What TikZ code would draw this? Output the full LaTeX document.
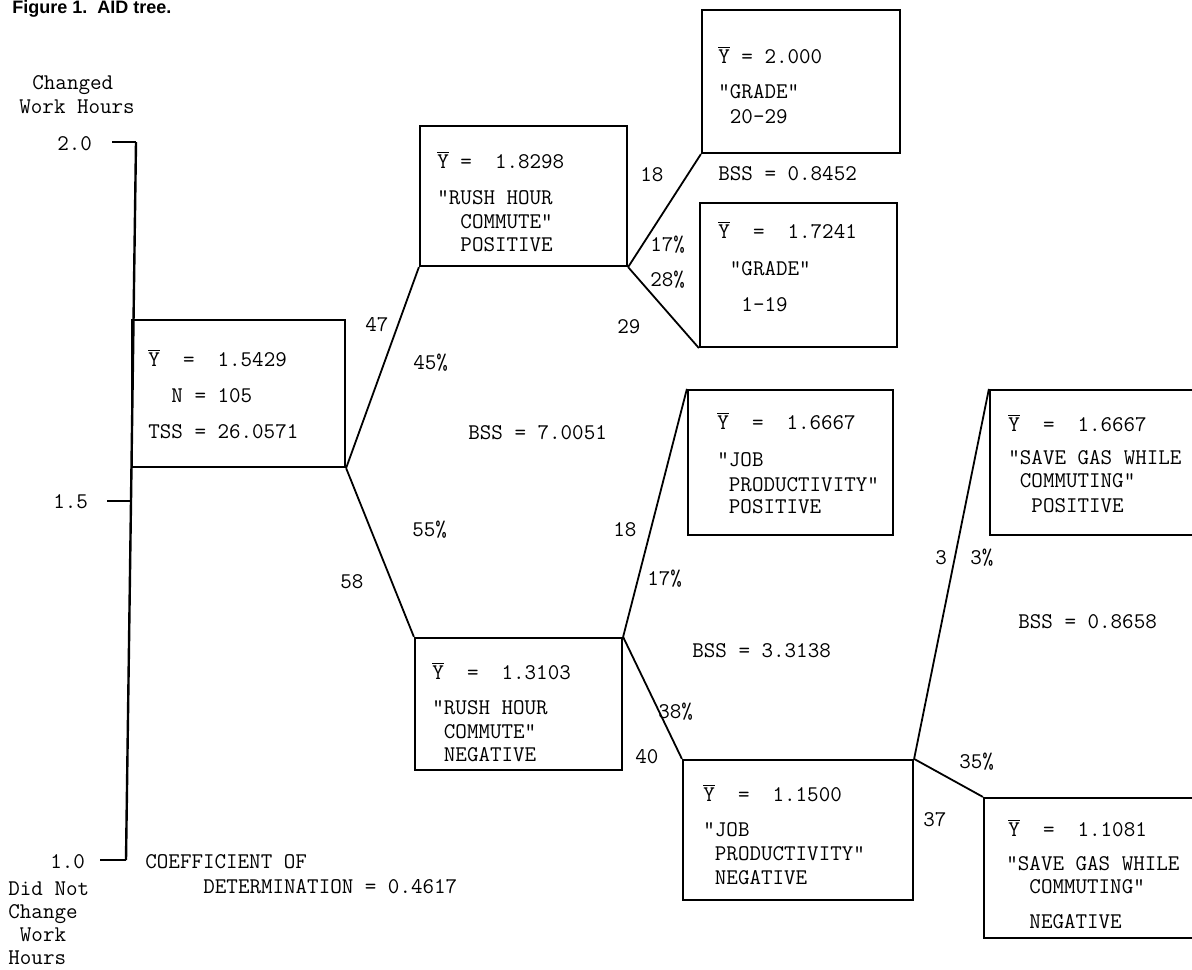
\documentclass[tikz,border=0pt]{standalone}
\usepackage{fontspec}
\usepackage{tikz}
\usetikzlibrary{fit}

\newfontfamily\capfont{Liberation Sans}
\newcommand{\ybar}{$\overline{\hbox{Y}}$}

\tikzset{
  box/.style={draw, line width=1.1pt, inner sep=0pt},
  txt/.style={anchor=west, inner sep=0pt, text height=6.8pt, text depth=0pt,
    font=\fontsize{11.2}{13}\selectfont\ttfamily},
  branch/.style={line width=0.9pt},
  axis/.style={line width=1.2pt}
}

\begin{document}
\begin{tikzpicture}[x=0.5pt,y=-0.5pt]

\useasboundingbox (0,0) rectangle (1192,969);
\clip (0,0) rectangle (1192,969);

% Caption
\node[anchor=west, inner sep=0pt, font=\capfont\bfseries\fontsize{9}{11}\selectfont] (cap) at (12,9) {Figure 1.\ \ AID tree.};

% Scale on the left
\coordinate (top) at (136,142);
\coordinate (bot) at (126,860);
\draw[axis] (top) -- (bot);
\draw[axis] (112,142) -- (top);
\draw[axis] (107,501) -- (131,501);
\draw[axis] (100,860) -- (bot);

\node[txt] (chg1) at (32,83) {Changed};
\node[txt] (chg2) at (19,107) {Work Hours};
\node[txt] (v20) at (57,144) {2.0};
\node[txt] (v15) at (53,502) {1.5};
\node[txt] (v10) at (50,862) {1.0};
\node[txt] (dnc1) at (8,889) {Did Not};
\node[txt] (dnc2) at (8,912) {Change};
\node[txt] (dnc3) at (8,935) {\ Work};
\node[txt] (dnc4) at (8,958) {Hours};

% Boxes
\node[box, fit={(132,320) (345,467)}] (root) {};
\node[box, fit={(420,126) (627,266)}] (rpos) {};
\node[box, fit={(415,638) (622,770)}] (rneg) {};
\node[box, fit={(702,10) (900,153)}] (ghi) {};
\node[box, fit={(700,203) (897,347)}] (glo) {};
\node[box, fit={(688,390) (893,535)}] (jpos) {};
\node[box, fit={(683,760) (913,900)}] (jneg) {};
\node[box, fit={(990,390) (1215,535)}] (spos) {};
\node[box, fit={(984,798) (1215,938)}] (sneg) {};

% Splits
\draw[branch] (root.south east) -- (rpos.south west);
\draw[branch] (root.south east) -- (rneg.north west);
\draw[branch] (rpos.south east) -- (ghi.south west);
\draw[branch] (rpos.south east) -- (glo.south west);
\draw[branch] (rneg.north east) -- (jpos.north west);
\draw[branch] (rneg.north east) -- (jneg.north west);
\draw[branch] (jneg.north east) -- (spos.north west);
\draw[branch] (jneg.north east) -- (sneg.north west);

% Box texts
\node[txt] (root-y) at (148,360) {\ybar\ \ =\ \ 1.5429};
\node[txt] (root-n) at (148,396) {\ \ N = 105};
\node[txt] (root-t) at (148,432) {TSS = 26.0571};

\node[txt] (rpos-y) at (437,162) {\ybar\ =\ \ 1.8298};
\node[txt] (rpos-v) at (437,198) {"RUSH HOUR};
\node[txt] (rpos-w) at (437,222) {\ \ COMMUTE"};
\node[txt] (rpos-s) at (437,245) {\ \ POSITIVE};

\node[txt] (rneg-y) at (432,673) {\ybar\ \ =\ \ 1.3103};
\node[txt] (rneg-v) at (432,708) {"RUSH HOUR};
\node[txt] (rneg-w) at (432,732) {\ COMMUTE"};
\node[txt] (rneg-s) at (432,755) {\ NEGATIVE};

\node[txt] (ghi-y) at (718,57) {\ybar\ =\ 2.000};
\node[txt] (ghi-v) at (718,92) {"GRADE"};
\node[txt] (ghi-w) at (718,117) {\ 20-29};

\node[txt] (glo-y) at (718,232) {\ybar\ \ =\ \ 1.7241};
\node[txt] (glo-v) at (718,269) {\ "GRADE"};
\node[txt] (glo-w) at (718,305) {\ \ 1-19};

\node[txt] (jpos-y) at (717,423) {\ybar\ \ =\ \ 1.6667};
\node[txt] (jpos-v) at (717,460) {"JOB};
\node[txt] (jpos-w) at (717,485) {\ PRODUCTIVITY"};
\node[txt] (jpos-s) at (717,507) {\ POSITIVE};

\node[txt] (jneg-y) at (703,795) {\ybar\ \ =\ \ 1.1500};
\node[txt] (jneg-v) at (703,830) {"JOB};
\node[txt] (jneg-w) at (703,854) {\ PRODUCTIVITY"};
\node[txt] (jneg-s) at (703,878) {\ NEGATIVE};

\node[txt] (spos-y) at (1008,425) {\ybar\ \ =\ \ 1.6667};
\node[txt] (spos-v) at (1008,458) {"SAVE GAS WHILE};
\node[txt] (spos-w) at (1008,481) {\ COMMUTING"};
\node[txt] (spos-s) at (1008,506) {\ \ POSITIVE};

\node[txt] (sneg-y) at (1008,830) {\ybar\ \ =\ \ 1.1081};
\node[txt] (sneg-v) at (1006,864) {"SAVE GAS WHILE};
\node[txt] (sneg-w) at (1006,887) {\ \ COMMUTING"};
\node[txt] (sneg-s) at (1006,922) {\ \ NEGATIVE};

% Split labels
\node[txt] (n47) at (365,325) {47};
\node[txt] (p45) at (413,363) {45\%};
\node[txt] (bss1) at (468,433) {BSS = 7.0051};
\node[txt] (p55) at (412,530) {55\%};
\node[txt] (n58) at (340,582) {58};

\node[txt] (n18a) at (640,175) {18};
\node[txt] (p17a) at (650,245) {17\%};
\node[txt] (p28) at (650,280) {28\%};
\node[txt] (n29) at (617,327) {29};
\node[txt] (bss2) at (718,174) {BSS = 0.8452};

\node[txt] (n18b) at (613,530) {18};
\node[txt] (p17b) at (647,579) {17\%};
\node[txt] (bss3) at (692,651) {BSS = 3.3138};
\node[txt] (p38) at (658,712) {38\%};
\node[txt] (n40) at (635,757) {40};

\node[txt] (n3) at (935,558) {3};
\node[txt] (p3) at (970,558) {3\%};
\node[txt] (bss4) at (1018,622) {BSS = 0.8658};
\node[txt] (p35) at (959,762) {35\%};
\node[txt] (n37) at (923,820) {37};

% Fit of the tree
\node[txt] (coef1) at (145,862) {COEFFICIENT OF};
\node[txt] (coef2) at (203,887) {DETERMINATION = 0.4617};

\end{tikzpicture}
\end{document}
